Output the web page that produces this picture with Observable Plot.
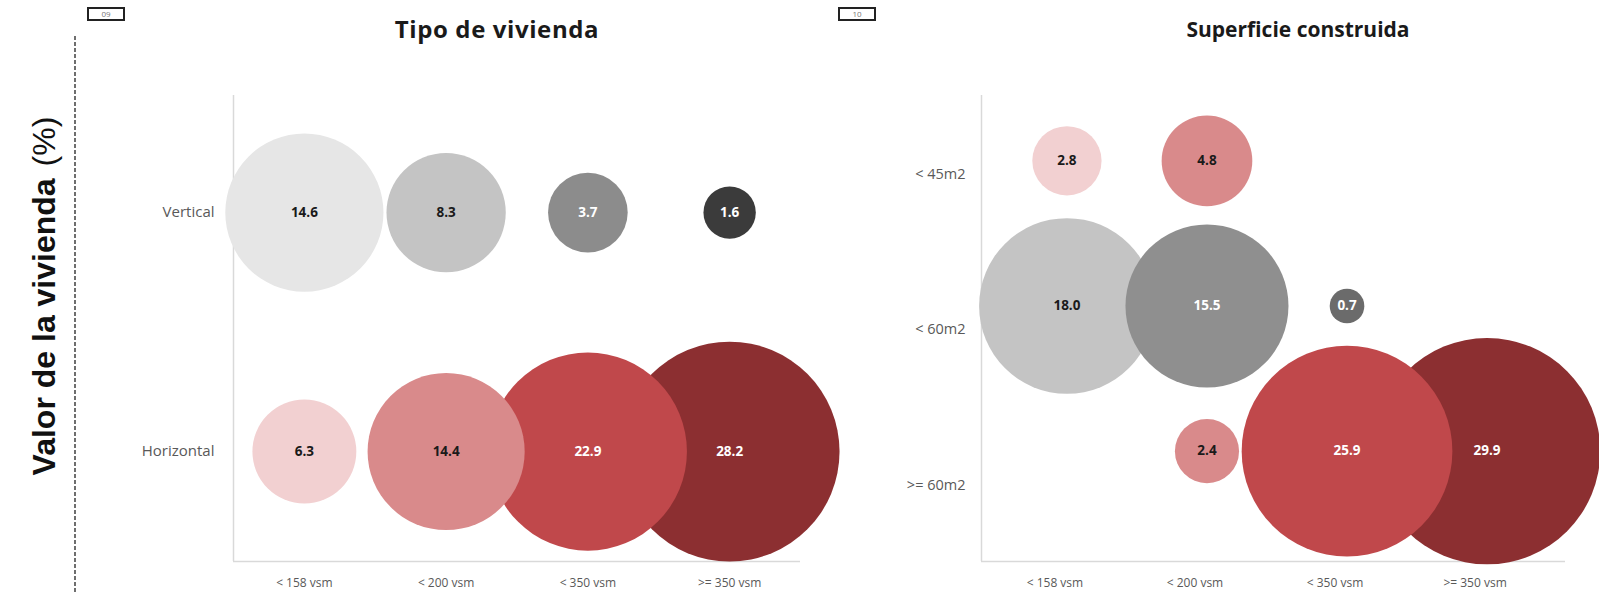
<!DOCTYPE html>
<html>
<head>
<meta charset="utf-8">
<script src="https://cdn.jsdelivr.net/npm/d3@7"></script>
<script src="https://cdn.jsdelivr.net/npm/@observablehq/plot@0.6"></script>
<style>
  html, body { margin: 0; padding: 0; background: #fff; }
  #page { position: relative; width: 1599px; height: 592px; overflow: hidden; background: #fff; font-family: "Open Sans", sans-serif; }
  .abs { position: absolute; }
  .title { position: absolute; top: 12px; font-family: "Open Sans", sans-serif; font-weight: 700; color: #1a1a1a; transform: translateX(-50%); white-space: nowrap; line-height: 34px; }
  .box { position: absolute; top: 7px; width: 34px; height: 10px; border: 2px solid #222; font-size: 8px; line-height: 10px; color: #777; text-align: center; }
  svg { overflow: visible; }
</style>
</head>
<body>
<div id="page">
  <svg class="abs" style="left:0;top:0" width="120" height="592">
    <line x1="75" y1="36" x2="75" y2="592" stroke="#222" stroke-width="1.3" stroke-dasharray="4,2"></line>
    <text transform="translate(55,296) rotate(-90)" text-anchor="middle" font-family="Liberation Sans, Arial, sans-serif" font-size="32" fill="#111"><tspan font-weight="700">Valor de la vivienda</tspan><tspan font-weight="400" dx="12">(%)</tspan></text>
  </svg>
  <div class="box" style="left:87px">09</div>
  <div class="box" style="left:838px">10</div>
  <div class="title" style="left:497px;font-size:24px;letter-spacing:0.6px">Tipo de vivienda</div>
  <div class="title" style="left:1298px;font-size:21px">Superficie construida</div>
  <div id="left" class="abs" style="left:0;top:0"></div>
  <div id="right" class="abs" style="left:860px;top:0"></div>
</div>
<script>
// ---------- data ----------
const priceCats = ["< 158 vsm", "< 200 vsm", "< 350 vsm", ">= 350 vsm"];

const tipoRows = ["Vertical", "Horizontal"];
const tipoVertical = [14.6, 8.3, 3.7, 1.6];
const tipoHorizontal = [6.3, 14.4, 22.9, 28.2];

const superRows = ["< 45m2", "< 60m2", ">= 60m2"];
const superLt45 = [2.8, 4.8, null, null];
const superLt60 = [18.0, 15.5, 0.7, null];
const superGe60 = [null, 2.4, 25.9, 29.9];

// ---------- styles ----------
const grayLeft = ["#e6e6e6", "#c4c4c4", "#8c8c8c", "#3b3b3b"];
const grayRight = ["#c4c4c4", "#8f8f8f", "#6b6b6b", "#3b3b3b"];
const reds = ["#f2d0d1", "#d98a8b", "#c0484b", "#8c2f31"];
const axisGray = "#d9d9d9";
const labelGray = "#595959";
const K = 20.7; // px per sqrt(%)
const rScale = {type: "sqrt", domain: [0, 30], range: [0, K * Math.sqrt(30)]};
const textColor = d => d3.hsl(d.fill).l < 0.6 ? "#ffffff" : "#1a1a1a";

function rowsToTable(rows, series, colorFor) {
  const out = [];
  series.forEach((vals, ri) => {
    vals.forEach((v, ci) => {
      if (v == null) return;
      out.push({row: rows[ri], ri, col: priceCats[ci], ci, v, fill: colorFor(ri, ci)});
    });
  });
  return out;
}

// ---------- left: Tipo de vivienda ----------
const leftData = rowsToTable(tipoRows, [tipoVertical, tipoHorizontal],
  (ri, ci) => ri === 0 ? grayLeft[ci] : reds[ci]);

const xDomL = [-0.5, 3.5];
const yDomL = [1.46, -0.49];
const leftPlot = Plot.plot({
  width: 860, height: 592,
  marginLeft: 233, marginRight: 60, marginTop: 95, marginBottom: 31,
  style: {fontFamily: "Open Sans, sans-serif", overflow: "visible", background: "transparent"},
  x: {domain: xDomL, axis: null},
  y: {domain: yDomL, axis: null},
  r: rScale,
  marks: [
    Plot.ruleX([xDomL[0]], {stroke: axisGray, strokeWidth: 1.5}),
    Plot.ruleY([yDomL[0]], {stroke: axisGray, strokeWidth: 1.5}),
    Plot.axisX(priceCats.map((_, i) => i), {
      tickSize: 0, tickPadding: 17, fontSize: 12, fill: labelGray, label: null,
      tickFormat: d => priceCats[Math.round(d)]
    }),
    Plot.axisY(tipoRows.map((_, i) => i), {
      tickSize: 0, tickPadding: 19, fontSize: 15, fill: labelGray, label: null,
      tickFormat: d => tipoRows[Math.round(d)]
    }),
    Plot.dot(leftData, {x: "ci", y: "ri", r: "v", fill: d => d.fill, stroke: null}),
    Plot.text(leftData, {x: "ci", y: "ri", text: d => d.v.toFixed(1),
      fill: textColor, fontWeight: "bold", fontSize: 13.5})
  ]
});
document.getElementById("left").appendChild(leftPlot);

// ---------- right: Superficie construida ----------
const rightData = rowsToTable(superRows, [superLt45, superLt60, superGe60],
  (ri, ci) => ri === 1 ? grayRight[ci] : reds[ci]);

const xDomR = [-0.61, 3.56];
const yDomR = [2.76, -0.45];
const rightPlot = Plot.plot({
  width: 739, height: 592,
  marginLeft: 121, marginRight: 34, marginTop: 95, marginBottom: 31,
  style: {fontFamily: "Open Sans, sans-serif", overflow: "visible", background: "transparent"},
  x: {domain: xDomR, axis: null},
  y: {domain: yDomR, axis: null},
  r: rScale,
  marks: [
    Plot.ruleX([xDomR[0]], {stroke: axisGray, strokeWidth: 1.5}),
    Plot.ruleY([yDomR[0]], {stroke: axisGray, strokeWidth: 1.5}),
    Plot.axisX(priceCats.map((_, i) => i), {
      tickSize: 0, tickPadding: 17, fontSize: 12, fill: labelGray, label: null, dx: -12,
      tickFormat: d => priceCats[Math.round(d)]
    }),
    Plot.axisY(superRows.map((_, i) => i * 1.072 + 0.09), {
      tickSize: 0, tickPadding: 16, fontSize: 14.5, fill: labelGray, label: null,
      tickFormat: (d, i) => superRows[i]
    }),
    Plot.dot(rightData, {x: "ci", y: "ri", r: "v", fill: d => d.fill, stroke: null}),
    Plot.text(rightData, {x: "ci", y: "ri", text: d => d.v.toFixed(1),
      fill: textColor, fontWeight: "bold", fontSize: 13.5})
  ]
});
document.getElementById("right").appendChild(rightPlot);
</script>
</body>
</html>
